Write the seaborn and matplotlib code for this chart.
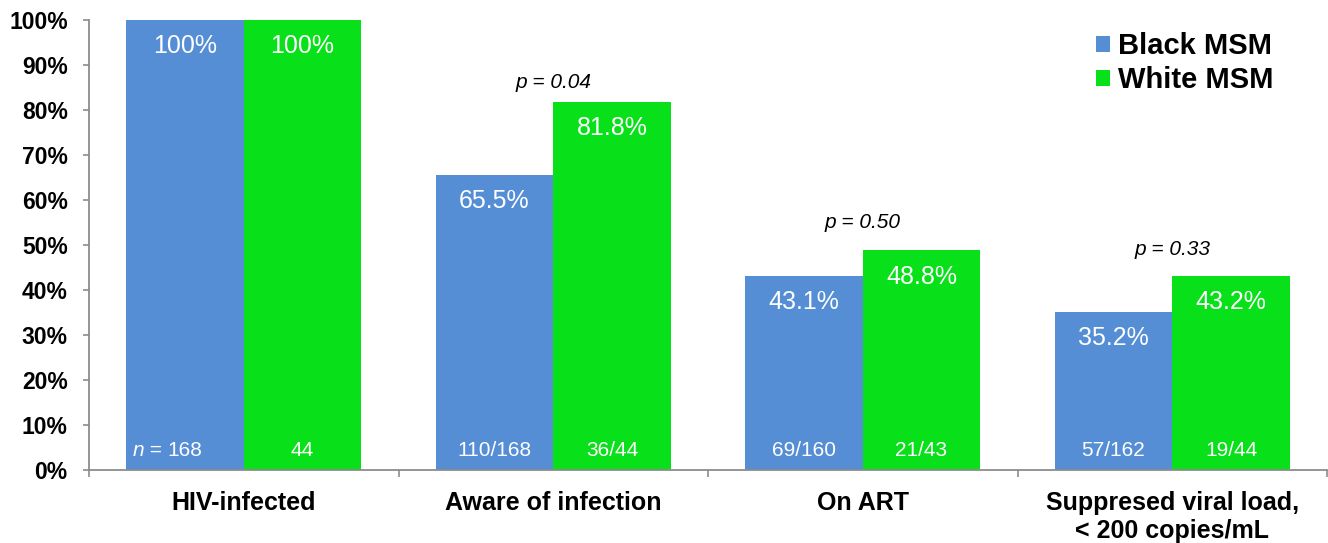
import matplotlib
matplotlib.use("Agg")
import matplotlib.pyplot as plt
from matplotlib.patches import Patch
from matplotlib.ticker import FixedLocator
import seaborn as sns
import pandas as pd

# ---- data ----
stages = ["HIV-infected", "Aware of infection", "On ART",
          "Suppresed viral load,\n< 200 copies/mL"]
groups = ["Black MSM", "White MSM"]
black_pct = [100, 65.5, 43.1, 35.2]
white_pct = [100, 81.8, 48.8, 43.2]
black_counts = ["168", "110/168", "69/160", "57/162"]
white_counts = ["44", "36/44", "21/43", "19/44"]
p_values = [None, "p = 0.04", "p = 0.50", "p = 0.33"]
value_labels_black = ["100%", "65.5%", "43.1%", "35.2%"]
value_labels_white = ["100%", "81.8%", "48.8%", "43.2%"]

colors = {"Black MSM": "#558ED5", "White MSM": "#08E01A"}

df = pd.DataFrame({
    "stage": stages * 2,
    "group": [groups[0]] * len(stages) + [groups[1]] * len(stages),
    "pct": black_pct + white_pct,
})

sns.set_theme(style="white")
plt.rcParams["font.family"] = ["Liberation Sans", "DejaVu Sans"]
plt.rcParams["text.color"] = "black"

W, H = 1328, 543
fig = plt.figure(figsize=(W / 100, H / 100), dpi=100)
ax = fig.add_axes([89 / W, 1 - 470 / H, (1327 - 89) / W, 450 / H])

sns.barplot(data=df, x="stage", y="pct", hue="group", order=stages,
            hue_order=groups, palette=colors, width=0.76, saturation=1,
            linewidth=0, ax=ax, legend=False)

ax.set_xlim(-0.5, len(stages) - 0.5)
ax.set_ylim(0, 100)
ax.set_xlabel("")
ax.set_ylabel("")

grey = "#8C8C8C"
for side in ["top", "right"]:
    ax.spines[side].set_visible(False)
for side in ["left", "bottom"]:
    ax.spines[side].set_color(grey)
    ax.spines[side].set_linewidth(1.3)

ax.set_yticks(range(0, 101, 10))
ax.set_yticklabels([f"{v}%" for v in range(0, 101, 10)],
                   fontsize=16.5, fontweight="bold", color="black")
ax.tick_params(axis="y", which="major", direction="out", length=6 * 0.72,
               width=1.2, color=grey, pad=11, left=True)

ax.set_xticks(range(len(stages)))
ax.set_xticklabels(stages, fontsize=18, fontweight="bold", color="black",
                   linespacing=1.2)
ax.tick_params(axis="x", which="major", length=0, pad=15)
ax.xaxis.set_minor_locator(FixedLocator([i - 0.5 for i in range(len(stages) + 1)]))
ax.tick_params(axis="x", which="minor", direction="out", length=7 * 0.72,
               width=1.2, color=grey, bottom=True)

# bar annotations
cont_black, cont_white = ax.containers[0], ax.containers[1]
for bars, vlabels, clabels in [(cont_black, value_labels_black, black_counts),
                               (cont_white, value_labels_white, white_counts)]:
    for i, bar in enumerate(bars):
        xc = bar.get_x() + bar.get_width() / 2
        top = bar.get_height()
        ax.text(xc, top - 5.8, vlabels[i], ha="center", va="center",
                fontsize=18, color="white")
        t = ax.text(xc, 4.4, clabels[i], ha="center", va="center",
                    fontsize=15, color="white")
        if bars is cont_black and i == 0:
            t_eq = ax.annotate(" = ", xy=(0, 0), xycoords=t, ha="right",
                               va="bottom", fontsize=15, color="white")
            ax.annotate("n", xy=(0, 0), xycoords=t_eq, ha="right",
                        va="bottom", fontsize=15, color="white",
                        fontstyle="italic")

# significance labels above each group
p_label_y = [None, 86, 55, 49]
for i, p in enumerate(p_values):
    if p is None:
        continue
    ax.text(i, p_label_y[i], p, ha="center", va="center", fontsize=15,
            fontstyle="italic", color="black")

handles = [Patch(facecolor=colors[g], edgecolor="none", label=g) for g in groups]
leg = fig.legend(handles=handles, loc="upper left",
                 bbox_to_anchor=(1096 / W, 1 - 32 / H), frameon=False,
                 prop={"size": 21, "weight": "bold"}, handlelength=0.48,
                 handleheight=0.48, handletextpad=0.28, labelspacing=0.22,
                 borderpad=0, borderaxespad=0, labelcolor="black")

fig.savefig("out.png", dpi=100)
